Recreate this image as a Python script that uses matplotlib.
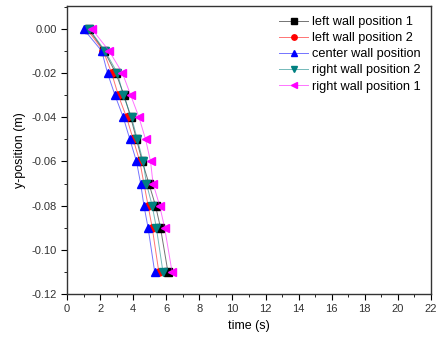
import numpy as np
import matplotlib.pyplot as plt
from matplotlib.colors import to_rgba
from matplotlib.ticker import MultipleLocator

plt.rcParams["font.family"] = ["Liberation Sans", "DejaVu Sans"]

# y positions (m)
y_pos = [0.00, -0.01, -0.02, -0.03, -0.04, -0.05, -0.06, -0.07, -0.08, -0.09, -0.11]

# times (s) for each wall position
t_left1 = [1.30, 2.25, 2.95, 3.45, 3.85, 4.20, 4.55, 4.95, 5.35, 5.65, 6.10]
t_left2 = [1.20, 2.20, 2.70, 3.10, 3.60, 4.00, 4.40, 4.65, 4.90, 5.15, 5.55]
t_center = [1.00, 2.10, 2.45, 2.90, 3.40, 3.80, 4.20, 4.45, 4.65, 4.90, 5.30]
t_right2 = [1.35, 2.30, 3.05, 3.40, 3.90, 4.25, 4.60, 4.80, 5.15, 5.40, 5.80]
t_right1 = [1.50, 2.55, 3.35, 3.85, 4.35, 4.75, 5.05, 5.20, 5.60, 5.90, 6.35]

series = [
    ("left wall position 1", t_left1, "black", "s"),
    ("left wall position 2", t_left2, "red", "o"),
    ("center wall position", t_center, "blue", "^"),
    ("right wall position 2", t_right2, "#008080", "v"),
    ("right wall position 1", t_right1, "magenta", "<"),
]

fig = plt.figure(figsize=(4.41, 3.38), dpi=100)
ax = fig.add_axes([67 / 441, 44 / 338, 364 / 441, 288 / 338])

for label, t, c, m in series:
    ax.plot(t, y_pos, color=to_rgba(c, 0.55), marker=m, markersize=5.2,
            markerfacecolor=c, markeredgecolor=c, linewidth=0.7, label=label)

ax.set_xlim(0, 22)
ax.set_ylim(-0.12, 0.0104)
ax.xaxis.set_major_locator(MultipleLocator(2))
ax.xaxis.set_minor_locator(MultipleLocator(1))
ax.yaxis.set_major_locator(MultipleLocator(0.02))
ax.yaxis.set_minor_locator(MultipleLocator(0.01))
ax.yaxis.set_major_formatter(plt.FormatStrFormatter("%.2f"))
ax.tick_params(which="both", direction="out", labelsize=8, top=False, right=False,
               labelcolor="#333333")
ax.tick_params(which="major", length=4)
ax.tick_params(which="minor", length=2.5)
for s in ax.spines.values():
    s.set_linewidth(1.0)
    s.set_color("#333333")

ax.set_xlabel("time (s)", fontsize=9)
ax.set_ylabel("y-position (m)", fontsize=9)

ax.legend(loc="upper right", frameon=False, fontsize=9.2, handlelength=2.3,
          handletextpad=0.3, labelspacing=0.32, borderaxespad=0.4,
          markerscale=0.75)

fig.savefig("out.png", dpi=100)
